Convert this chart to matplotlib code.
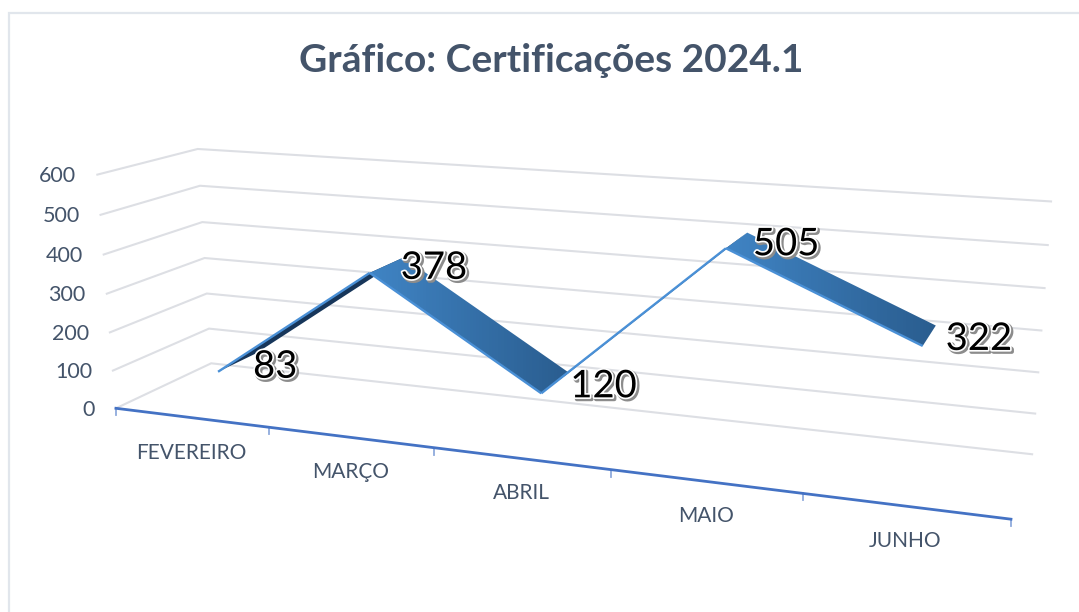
import numpy as np
import matplotlib
matplotlib.use("Agg")
import matplotlib.pyplot as plt
import matplotlib.patheffects as pe
from matplotlib.patches import Polygon
from matplotlib.colors import LinearSegmentedColormap

categories = ["FEVEREIRO", "MARÇO", "ABRIL", "MAIO", "JUNHO"]
values = [83, 378, 120, 505, 322]
value_ticks = [0, 100, 200, 300, 400, 500, 600]
title = "Gráfico: Certificações 2024.1"

W, H = 1079, 612
INK = "#44546A"
plt.rcParams["font.family"] = ["Lato", "DejaVu Sans"]

# Camera calibration of the 3-D look: (category, value, depth) -> pixel
calib = [
    ((0, 0, 0), (116, 408)), ((0, 600, 0), (97, 175)),
    ((0, 0, 1), (211, 363)), ((0, 600, 1), (198, 149)),
    ((5, 0, 1), (1032, 455)), ((5, 600, 1), (1051, 201)),
    ((5, 0, 0), (1011, 518)), ((1, 0, 0), (269, 427)),
    ((2, 0, 0), (434, 448)), ((3, 0, 0), (611, 470)), ((4, 0, 0), (803, 494)),
]
A, b = [], []
for (c, v, z), (px, py) in calib:
    A.append([c, v, z, 1, 0, 0, 0, 0, -px * c, -px * v, -px * z]); b.append(px)
    A.append([0, 0, 0, 0, c, v, z, 1, -py * c, -py * v, -py * z]); b.append(py)
m = np.linalg.lstsq(np.array(A, float), np.array(b, float), rcond=None)[0]


def project(c, v, z):
    w = m[8] * c + m[9] * v + m[10] * z + 1
    return ((m[0] * c + m[1] * v + m[2] * z + m[3]) / w,
            (m[4] * c + m[5] * v + m[6] * z + m[7]) / w)


fig = plt.figure(figsize=(W / 100, H / 100), dpi=100)
ax = fig.add_axes([0, 0, 1, 1])
ax.set_xlim(0, W)
ax.set_ylim(H, 0)
ax.axis("off")

# chart frame (left and top edges only are inside the crop)
ax.plot([9, 9, W], [H, 13, 13], color="#E1E6EC", lw=1.6, zorder=1,
        solid_joinstyle="miter")

# title
ax.text(551, 61, title, ha="center", va="center", fontsize=28,
        fontweight="bold", color=INK, zorder=6)

# wall gridlines
for t in value_ticks:
    p = [project(0, t, 0), project(0, t, 1), project(5, t, 1)]
    ax.plot(*zip(*p), color="#DDDFE4", lw=1.5, zorder=2, solid_joinstyle="miter")
    ax.text(p[0][0] - 21, p[0][1] + 1.5, str(t), ha="right", va="center",
            fontsize=15.5, color=INK, zorder=6)

# category axis with ticks
for i in range(len(categories) + 1):
    x0, y0 = project(i, 0, 0)
    ax.plot([x0, x0], [y0, y0 + 7], color="#8FAADC", lw=1.3, zorder=3)
ax.plot(*zip(project(0, 0, 0), project(5, 0, 0)), color="#4472C4", lw=2, zorder=4)
for i, name in enumerate(categories):
    x0, y0 = project(i + 0.5, 0, 0)
    ax.text(x0 + 0.5, y0 + 35, name, ha="center", va="center", fontsize=15,
            color=INK, zorder=6)

# ribbon
Z_NEAR, Z_FAR = 0.30, 0.72
cmap = LinearSegmentedColormap.from_list("r", ["#4084C4", "#2A5D8F"])
near = [project(i + 0.5, v, Z_NEAR) for i, v in enumerate(values)]
far = [project(i + 0.5, v, Z_FAR) for i, v in enumerate(values)]
for i in range(len(values) - 1):
    poly = [near[i], near[i + 1], far[i + 1], far[i]]
    rising = values[i + 1] > values[i]
    if rising:
        ax.add_patch(Polygon(poly, closed=True, fc="#17365A", ec="none", zorder=4.5))
    else:
        xs, ys = zip(*poly)
        ext = (min(xs), max(xs), max(ys), min(ys))
        g = np.linspace(0, 1, 64)[None, :]
        im = ax.imshow(g, cmap=cmap, extent=ext, aspect="auto", zorder=4.5)
        im.set_clip_path(Polygon(poly, closed=True, transform=ax.transData))
    ax.plot(*zip(near[i], near[i + 1]), color="#4A90D6", lw=1.7, zorder=4.7,
            solid_capstyle="butt")
ax.set_xlim(0, W)
ax.set_ylim(H, 0)

# data labels
label_dx = [35, 31, 29, 27, 23]
label_dy = [-5, -5, -7, -4, -7]
for (x0, y0), v, dx, dy in zip(near, values, label_dx, label_dy):
    ax.text(x0 + dx, y0 + dy, str(v), ha="left", va="center", fontsize=27.5,
            color="black", zorder=7, path_effects=[
                pe.Stroke(linewidth=3.0, foreground="#8C8C8C", offset=(1.3, -1.3)),
                pe.Stroke(linewidth=2.4, foreground="white"),
                pe.Normal()])

fig.savefig("out.png", dpi=100)
